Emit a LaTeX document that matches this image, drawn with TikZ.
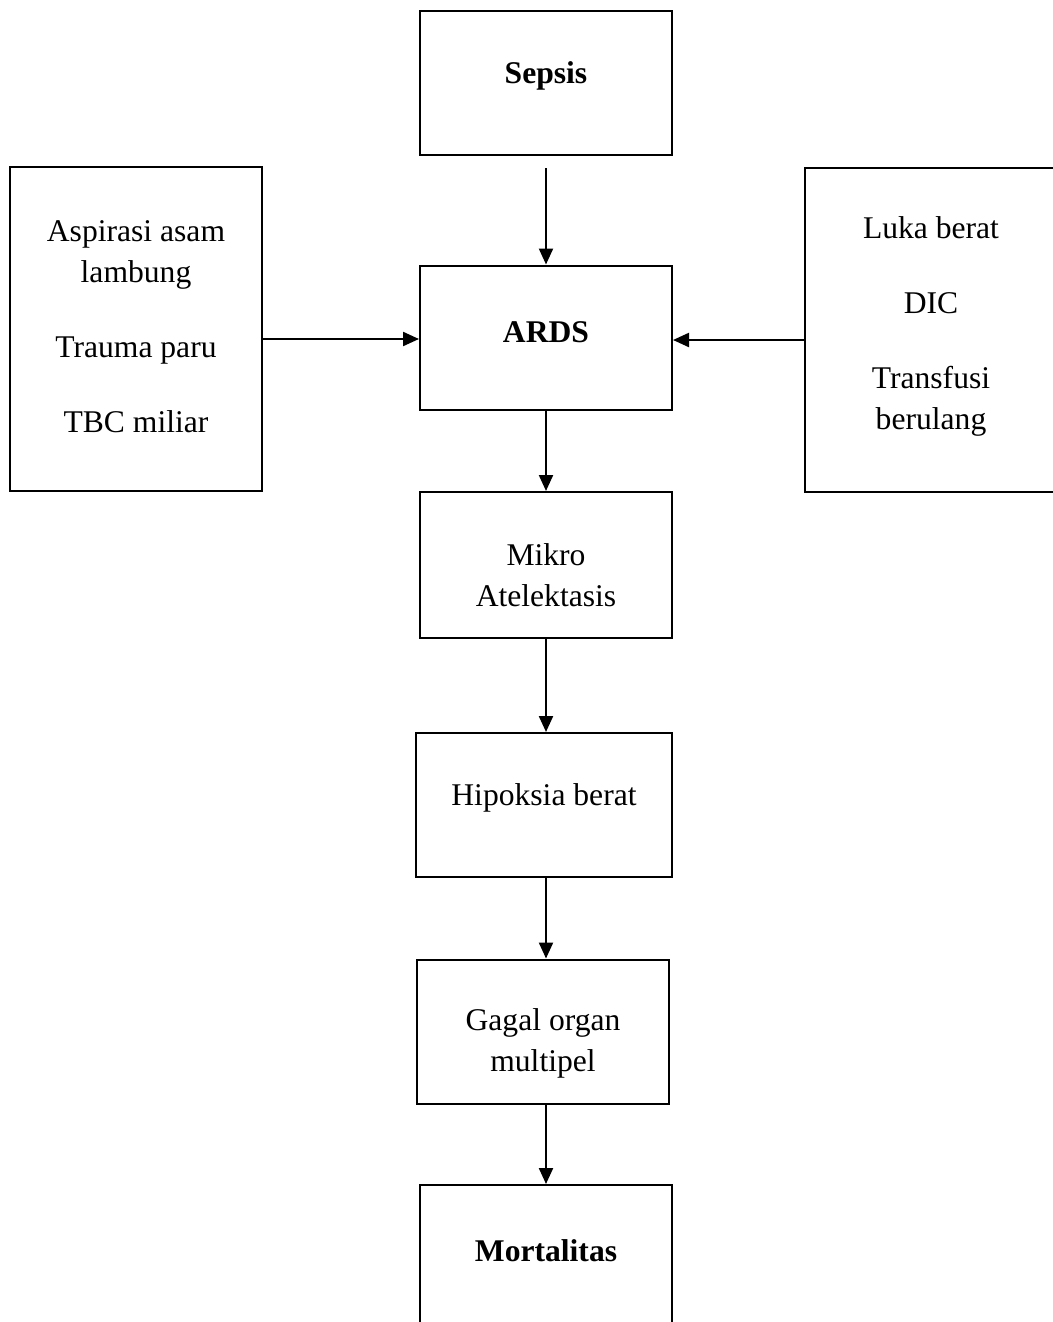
\documentclass[tikz,border=0pt]{standalone}
\usepackage{fontspec}
\setmainfont{Liberation Serif}
\usetikzlibrary{arrows.meta}
\tikzset{
	kotak/.style={draw, line width=1pt, minimum width=126pt, minimum height=72pt, inner sep=0pt},
	teks/.style={align=center, inner sep=0pt, font=\fontsize{15.8}{20.5}\selectfont},
	panah/.style={line width=1.1pt, -{Triangle[length=8pt,width=7pt]}}
}
\begin{document}
\begin{tikzpicture}[x={(0.5pt,0)}, y={(0,-0.5pt)}]
	\clip (0,0) rectangle (1053,1322);
	\useasboundingbox (0,0) rectangle (1053,1322);
	% kotak utama
	\node[kotak] (sepsis) at (546,83) {};
	\node[kotak] (ards) at (546,337.5) {};
	\node[kotak, minimum height=73pt] (mikro) at (546,565) {};
	\node[kotak, minimum width=128pt] (hipoksia) at (544,805) {};
	\node[kotak] (gagal) at (543,1031.5) {};
	\node[kotak] (mortalitas) at (546,1257) {};
	% kotak samping
	\node[kotak, minimum height=162pt] (kiri) at (136,329) {};
	\node[kotak, minimum height=162pt] (kanan) at (931,329.5) {};
	% teks
	\node[teks] (tsepsis) at (546,76) {\textbf{Sepsis}};
	\node[teks] (tards) at (546,332) {\textbf{ARDS}};
	\node[teks] (tmikro) at (546,575) {Mikro\\Atelektasis};
	\node[teks] (thipoksia) at (544,798) {Hipoksia berat};
	\node[teks] (tgagal) at (543,1043) {Gagal organ\\multipel};
	\node[teks] (tmortalitas) at (546,1251) {\textbf{Mortalitas}};
	\node[teks] (tkiri) at (136,327) {Aspirasi asam\\lambung\\[17pt]Trauma paru\\[17pt]TBC miliar};
	\node[teks] (tkanan) at (931,326) {Luka berat\\[17pt]DIC\\[17pt]Transfusi\\berulang};
	% panah
	\coordinate (kiri1) at (262,339);
	\coordinate (kanan1) at (805,340);
	\draw[panah] ([yshift=-6pt]sepsis.south) -- (ards.north);
	\draw[panah] (ards) -- (mikro);
	\draw[panah] (mikro.south) -- (mikro.south |- hipoksia.north);
	\draw[panah] (hipoksia.south -| mikro.south) -- (mikro.south |- gagal.north);
	\draw[panah] (gagal.south -| mikro.south) -- (mortalitas.north);
	\draw[panah] (kiri1) -- (kiri1 -| ards.west);
	\draw[panah] (kanan1) -- (kanan1 -| ards.east);
\end{tikzpicture}
\end{document}
